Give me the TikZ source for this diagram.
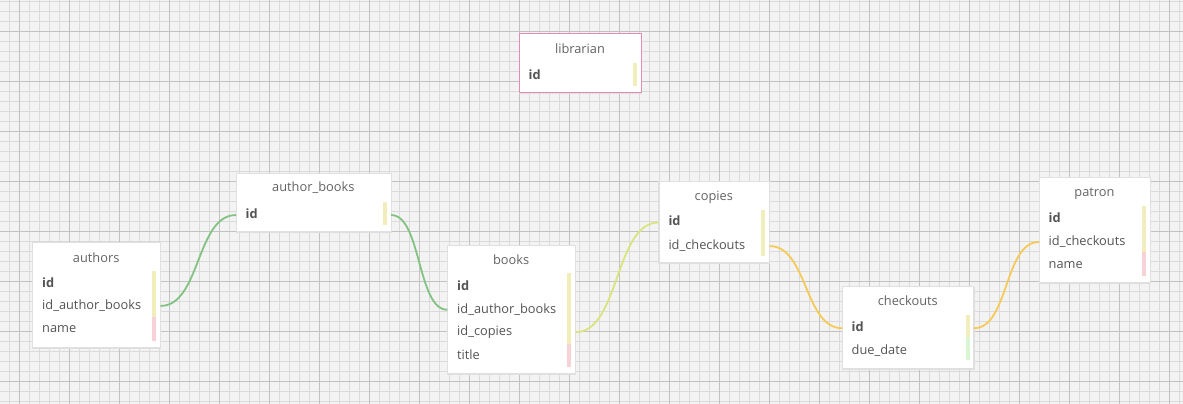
\documentclass[tikz,border=0pt]{standalone}
\usepackage{fontspec}
\setmainfont{Open Sans}
\definecolor{bgc}{HTML}{F3F3F3}
\definecolor{minorc}{HTML}{DADADA}
\definecolor{majorc}{HTML}{C2C2C2}
\definecolor{titlec}{HTML}{636363}
\definecolor{fieldc}{HTML}{545454}
\definecolor{bary}{HTML}{F1EEBB}
\definecolor{barp}{HTML}{F8D2D6}
\definecolor{barg}{HTML}{D9F5D2}
\definecolor{pinkb}{HTML}{E38DB3}
\definecolor{conng}{HTML}{82C282}
\definecolor{connyg}{HTML}{DAE47C}
\definecolor{conno}{HTML}{F6CA58}
\definecolor{shadc}{HTML}{D2D2D2}
\tikzset{
  tbox/.style={draw=white!88!black, line width=0.5pt, fill=white, inner sep=0, anchor=north west},
  ttitle/.style={anchor=base, inner sep=0, font=\fontsize{12.8}{14}\selectfont, text=titlec},
  tfield/.style={anchor=base west, inner sep=0, text height=9.5pt, text depth=3pt, font=\fontsize{12.8}{14}\selectfont, text=fieldc},
  tkey/.style={tfield, font=\fontsize{12.8}{14}\selectfont\bfseries},
  conn/.style={line width=1.8pt},
}
\newcommand\tablebox[5]{% name, x1, y1, x2, y2
  \fill[shadc!70!white] (#2-0.5,#3+0.5) rectangle (#4+1.2,#5+1.8);
  \node[tbox, minimum width=#4-#2, minimum height=#5-#3] (#1) at (#2,#3) {};
}
\begin{document}
\begin{tikzpicture}[x=1pt,y=-1pt]
\useasboundingbox (0,0) rectangle (1183,404);
% background grid
\fill[bgc] (0,0) rectangle (1183,404);
\begin{scope}
\clip (0,0) rectangle (1183,404);
\foreach \i in {0,...,118} {\draw[minorc, line width=0.8pt] (9.5+10*\i,0) -- (9.5+10*\i,404);}
\foreach \i in {0,...,40} {\draw[minorc, line width=0.8pt] (0,1.3+10*\i) -- (1183,1.3+10*\i);}
\foreach \i in {0,...,23} {\draw[majorc, line width=1.1pt] (19.5+50*\i,0) -- (19.5+50*\i,404);}
\foreach \i in {0,...,7} {\draw[majorc, line width=1.1pt] (0,31.3+50*\i) -- (1183,31.3+50*\i);}
\end{scope}

% librarian
\tablebox{librarian}{519}{33.3}{641}{91.7}
\draw[pinkb, line width=0.9pt] (librarian.north west) rectangle (librarian.south east);
\node[ttitle] (librarian-t) at (580,53.5) {librarian};
\node[tkey] (librarian-id) at (528.5,79) {id};
\fill[bary] (633.3,63.3) rectangle (637.3,86);

% author_books
\tablebox{abooks}{236}{173.3}{390.7}{230.7}
\node[ttitle] (abooks-t) at (313.3,191.7) {author\_books};
\node[tkey] (abooks-id) at (245.5,218.3) {id};
\fill[bary] (383.3,202.3) rectangle (386.7,225);

% authors
\tablebox{authors}{32.3}{241.7}{160}{346.7}
\node[ttitle] (authors-t) at (96.2,262) {authors};
\node[tkey] (authors-id) at (42,287.5) {id};
\node[tfield] (authors-aid) at (42,309.2) {id\_author\_books};
\node[tfield] (authors-name) at (42,332.5) {name};
\fill[bary] (151.7,271) rectangle (155.7,316.7);
\fill[barp] (151.7,316.7) rectangle (155.7,341);

% books
\tablebox{books}{447.3}{245}{575}{372.7}
\node[ttitle] (books-t) at (511.2,264.3) {books};
\node[tkey] (books-id) at (457,290) {id};
\node[tfield] (books-aid) at (457,313) {id\_author\_books};
\node[tfield] (books-cid) at (457,335.5) {id\_copies};
\node[tfield] (books-title) at (457,359.8) {title};
\fill[bary] (567.3,273.3) rectangle (570.7,344);
\fill[barp] (567.3,344) rectangle (570.7,366.7);

% copies
\tablebox{copies}{658.7}{180.7}{769}{261.7}
\node[ttitle] (copies-t) at (713.8,200) {copies};
\node[tkey] (copies-id) at (668.3,225.7) {id};
\node[tfield] (copies-chk) at (668.3,249.3) {id\_checkouts};
\fill[bary] (761,210) rectangle (765,255.7);

% checkouts
\tablebox{checkouts}{842.3}{286.3}{973.3}{367.7}
\node[ttitle] (checkouts-t) at (907.8,305.2) {checkouts};
\node[tkey] (checkouts-id) at (851.5,331.5) {id};
\node[tfield] (checkouts-due) at (851.5,354.7) {due\_date};
\fill[bary] (966,315) rectangle (970,336.7);
\fill[barg] (966,336.7) rectangle (970,360);

% patron
\tablebox{patron}{1039}{176.7}{1150}{281.7}
\node[ttitle] (patron-t) at (1094.5,196) {patron};
\node[tkey] (patron-id) at (1048.5,222.3) {id};
\node[tfield] (patron-chk) at (1048.5,245.2) {id\_checkouts};
\node[tfield] (patron-name) at (1048.5,268.3) {name};
\fill[bary] (1142,206) rectangle (1146,251.7);
\fill[barp] (1142,251.7) rectangle (1146,276);

% connectors
\draw[conn, conng] (authors.east |- authors-aid.center) .. controls +(40,0) and +(-40,0) .. (abooks.west |- abooks-id.center);
\draw[conn, conng] (abooks.east |- abooks-id.center) .. controls +(30,0) and +(-30,0) .. (books.west |- books-aid.center);
\draw[conn, connyg] (books.east |- books-cid.center) .. controls +(44,0) and +(-44,0) .. (copies.west |- copies-id.center);
\draw[conn, conno] (copies.east |- copies-chk.center) .. controls +(38,0) and +(-38,0) .. (checkouts.west |- checkouts-id.center);
\draw[conn, conno] (checkouts.east |- checkouts-id.center) .. controls +(35,0) and +(-35,0) .. (patron.west |- patron-chk.center);
\end{tikzpicture}
\end{document}
